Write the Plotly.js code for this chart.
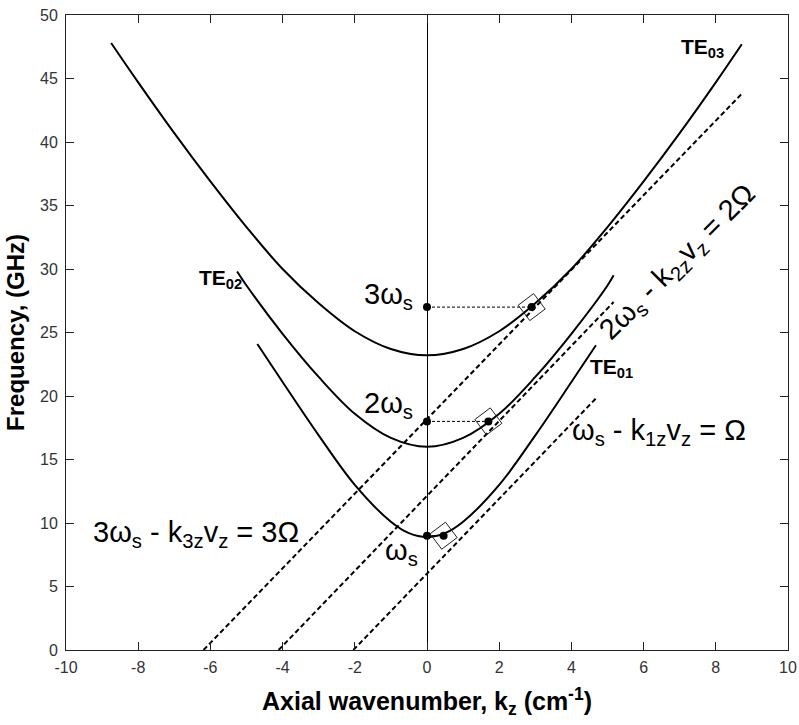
<!DOCTYPE html>
<html>
<head>
<meta charset="utf-8">
<script src="https://cdn.plot.ly/plotly-3.0.1.min.js"></script>
<style>
  html, body { margin: 0; padding: 0; background: #fff; }
  #chart { width: 799px; height: 725px; }
</style>
</head>
<body>
<div id="chart"></div>
<script>
// Waveguide dispersion curves: frequency (GHz) against axial wavenumber k_z (cm^-1)
const kTE03 = [-8.75, -8, -7, -6, -5, -4, -3, -2, -1, 0, 1, 2, 3, 4, 5, 6, 7, 8, 8.72];
const fTE03 = [47.8, 44.7, 40.7, 36.9, 33.3, 30.0, 27.3, 25.1, 23.7, 23.2, 23.7, 25.1, 27.3, 30.0, 33.3, 36.9, 40.7, 44.7, 47.7];

const kTE02 = [-5.26, -5, -4, -3, -2, -1, 0, 1, 2, 3, 4, 5, 5.17];
const fTE02 = [29.8, 28.7, 24.9, 21.5, 18.6, 16.7, 16.0, 16.7, 18.6, 21.5, 24.9, 28.7, 29.5];

const kTE01 = [-4.7, -4, -3, -2, -1, -0.5, 0, 0.5, 1, 2, 3, 4, 4.68];
const fTE01 = [24.1, 21.1, 16.9, 13.0, 10.1, 9.2, 8.9, 9.2, 10.1, 13.0, 16.9, 21.1, 24.0];

// Beam (cyclotron harmonic) lines, s = 1, 2, 3
const kBeam1 = [-2.04, 4.71];
const fBeam1 = [0, 19.9];
const kBeam2 = [-4.11, 5.17];
const fBeam2 = [0, 27.4];
const kBeam3 = [-6.19, 8.72];
const fBeam3 = [0, 43.8];

// Harmonics of the signal frequency and the grazing points on each mode
const harmonicF = [27, 18, 9];
const grazingK = [2.9, 1.7, 0.46];

const xTicks = [-10, -8, -6, -4, -2, 0, 2, 4, 6, 8, 10];
const yTicks = [0, 5, 10, 15, 20, 25, 30, 35, 40, 45, 50];

const FONT = 'Liberation Sans, Arial, sans-serif';
const INK = '#000';

function curve(x, y) {
  return { x: x, y: y, mode: 'lines', hoverinfo: 'skip',
           line: { color: INK, width: 2, shape: 'spline', smoothing: 1 } };
}
function beam(x, y) {
  return { x: x, y: y, mode: 'lines', hoverinfo: 'skip',
           line: { color: INK, width: 2, dash: '5px,3px' } };
}

const traces = [
  curve(kTE03, fTE03), curve(kTE02, fTE02), curve(kTE01, fTE01),
  beam(kBeam1, fBeam1), beam(kBeam2, fBeam2), beam(kBeam3, fBeam3)
];

// thin dashed connectors from k = 0 to each grazing point
harmonicF.forEach(function (f, i) {
  traces.push({ x: [0, grazingK[i]], y: [f, f], mode: 'lines', hoverinfo: 'skip',
                line: { color: INK, width: 1, dash: '3px,2px' } });
});

// filled dots at k = 0 and at the grazing points
traces.push({
  x: harmonicF.map(function () { return 0; }).concat(grazingK),
  y: harmonicF.concat(harmonicF),
  mode: 'markers', hoverinfo: 'skip',
  marker: { color: INK, size: 8, symbol: 'circle' }
});
// open diamonds around the grazing points
traces.push({
  x: grazingK, y: harmonicF, mode: 'markers', hoverinfo: 'skip',
  marker: { symbol: 'diamond-open', size: 21, angle: 8, color: '#222', line: { width: 1, color: '#222' } }
});

const eq = { family: FONT, size: 29, color: INK };
const te = { family: FONT, size: 21, color: INK, weight: 'bold' };

const annotations = [
  { text: '<b>TE<sub>03</sub></b>', x: 7.62, y: 47.4, font: te },
  { text: '<b>TE<sub>02</sub></b>', x: -5.73, y: 29.2, font: te },
  { text: '<b>TE<sub>01</sub></b>', x: 5.10, y: 22.2, font: te },
  { text: '3ω<sub>s</sub>', x: -0.33, y: 27.9, xanchor: 'right', font: eq },
  { text: '2ω<sub>s</sub>', x: -0.33, y: 19.3, xanchor: 'right', font: eq },
  { text: 'ω<sub>s</sub>', x: -0.19, y: 7.7, xanchor: 'right', font: eq },
  { text: '3ω<sub>s</sub> - k<sub>3z</sub>v<sub>z</sub> = 3Ω', x: -9.3, y: 9.1, xanchor: 'left', font: eq },
  { text: 'ω<sub>s</sub> - k<sub>1z</sub>v<sub>z</sub> = Ω', x: 3.95, y: 17.2, xanchor: 'left', font: eq },
  { text: '2ω<sub>s</sub> - k<sub>2z</sub>v<sub>z</sub> = 2Ω', x: 6.95, y: 30.5, textangle: -45, font: eq }
].map(function (a) {
  return Object.assign({ xref: 'x', yref: 'y', showarrow: false, yanchor: 'middle',
                         xanchor: 'center' }, a);
});

const axisCommon = {
  showgrid: false, showline: true, linecolor: '#222', linewidth: 1,
  mirror: 'ticks', ticks: 'inside', ticklen: 8, tickwidth: 1, tickcolor: '#222',
  tickfont: { family: FONT, size: 16, color: '#333' }
};

const layout = {
  width: 799, height: 725,
  margin: { l: 66, r: 11, t: 15, b: 75 },
  paper_bgcolor: '#fff', plot_bgcolor: '#fff',
  showlegend: false,
  xaxis: Object.assign({}, axisCommon, {
    range: [-10, 10], tickvals: xTicks, ticktext: xTicks.map(String),
    zeroline: true, zerolinecolor: INK, zerolinewidth: 1, ticklabelstandoff: 3,
    title: { text: '<b>Axial wavenumber, k<sub>z</sub> (cm<sup>-1</sup>)</b>',
             font: { family: FONT, size: 25, color: INK }, standoff: 17 }
  }),
  yaxis: Object.assign({}, axisCommon, {
    range: [0, 50], tickvals: yTicks, ticktext: yTicks.map(String),
    zeroline: false, ticklabelstandoff: 4,
    title: { text: '<b>Frequency, (GHz)</b>',
             font: { family: FONT, size: 24, color: INK }, standoff: 8 }
  }),
  annotations: annotations
};

Plotly.newPlot('chart', traces, layout, { staticPlot: true, displayModeBar: false });
</script>
</body>
</html>
